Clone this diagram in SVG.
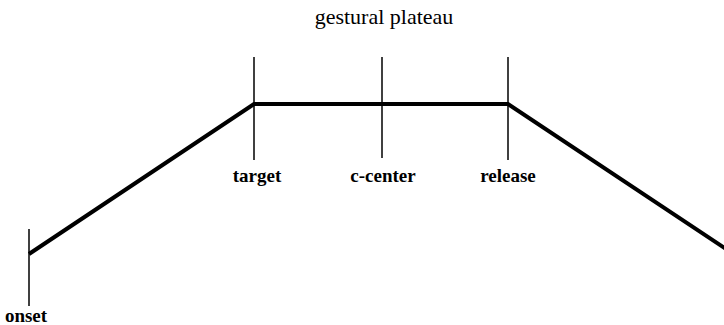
<svg xmlns="http://www.w3.org/2000/svg" width="724" height="325" viewBox="0 0 724 325">
<style>
.tick{stroke:#000;stroke-width:1.5;fill:none}
.curve{stroke:#000;stroke-width:4;fill:none;stroke-linejoin:miter}
.lbl{font-family:"Liberation Serif",serif;font-weight:bold;font-size:19px;fill:#000;text-anchor:middle}
.title{font-family:"Liberation Serif",serif;font-size:22px;fill:#000;text-anchor:middle}
</style>
<rect width="724" height="325" fill="#fff"/>
<g id="title"><text class="title" x="384" y="24">gestural plateau</text></g>
<g id="connectors">
<polyline class="curve" points="29,254 254,104 508,104 726,249"/>
</g>
<g id="onset"><line class="tick" x1="29" y1="229" x2="29" y2="306"/><text class="lbl" x="26" y="322">onset</text></g>
<g id="target"><line class="tick" x1="254" y1="57" x2="254" y2="160"/><text class="lbl" x="257" y="182">target</text></g>
<g id="c-center"><line class="tick" x1="382" y1="57" x2="382" y2="158"/><text class="lbl" x="383" y="182">c-center</text></g>
<g id="release"><line class="tick" x1="508" y1="57" x2="508" y2="160"/><text class="lbl" x="508" y="182">release</text></g>
</svg>
